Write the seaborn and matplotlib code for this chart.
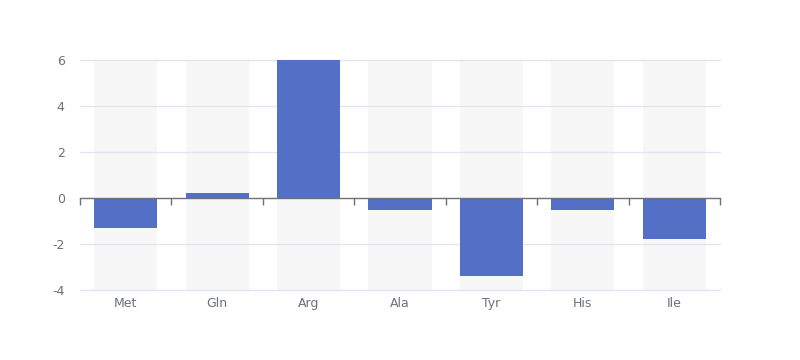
import matplotlib
matplotlib.use("Agg")
import pandas as pd
import seaborn as sns
from matplotlib import pyplot as plt

categories = ["Met", "Gln", "Arg", "Ala", "Tyr", "His", "Ile"]
values = [-1.3, 0.2, 6.0, -0.5, -3.4, -0.5, -1.8]
y_ticks = [-4, -2, 0, 2, 4, 6]

AXIS_GREY = "#6e7079"
GRID = "#e0e6f1"
BAR = "#5470c6"
BG_BAR = "#f7f7f7"

sns.set_style("white")
plt.rcParams["font.family"] = ["DejaVu Sans"]
plt.rcParams["axes.unicode_minus"] = False

fig = plt.figure(figsize=(8, 3.6), dpi=100)
ax = fig.add_axes([0.1, 0.1944, 0.8, 0.6389])

df = pd.DataFrame({"name": categories, "value": values})

# background "shadow" bars spanning the whole value range
ymin, ymax = min(y_ticks), max(y_ticks)
ax.bar(range(len(categories)), [ymax - ymin] * len(categories), bottom=ymin,
       width=0.69, color=BG_BAR, linewidth=0, zorder=0)

# grid lines (the zero line is the axis line itself)
for t in y_ticks:
    if t != 0:
        ax.axhline(t, color=GRID, linewidth=1, zorder=1, clip_on=False)

sns.barplot(df, x="name", y="value", color=BAR, saturation=1, width=0.69,
            ax=ax, zorder=3, errorbar=None, linewidth=0, edgecolor=BAR)

ax.set_xlim(-0.5, len(categories) - 0.5)
ax.set_ylim(ymin, ymax)
ax.set_yticks(y_ticks)
ax.set_xlabel("")
ax.set_ylabel("")
for s in ax.spines.values():
    s.set_visible(False)
ax.tick_params(axis="y", length=0, pad=11, labelsize=9, labelcolor=AXIS_GREY)
ax.tick_params(axis="x", length=0, pad=5, labelsize=9, labelcolor=AXIS_GREY)

# axis line sitting on zero, with ticks between categories
sec = ax.secondary_xaxis(0, transform=ax.transData)
sec.set_zorder(5)
sec.set_xticks([i - 0.5 for i in range(len(categories) + 1)])
sec.set_xticklabels([])
sec.tick_params(axis="x", which="both", direction="out", length=5, width=1,
                color=AXIS_GREY, top=False, bottom=True)
sec.spines["bottom"].set_color(AXIS_GREY)
sec.spines["bottom"].set_linewidth(1)
for name in ["top", "left", "right"]:
    sec.spines[name].set_visible(False)

fig.savefig("out.png", dpi=100)
